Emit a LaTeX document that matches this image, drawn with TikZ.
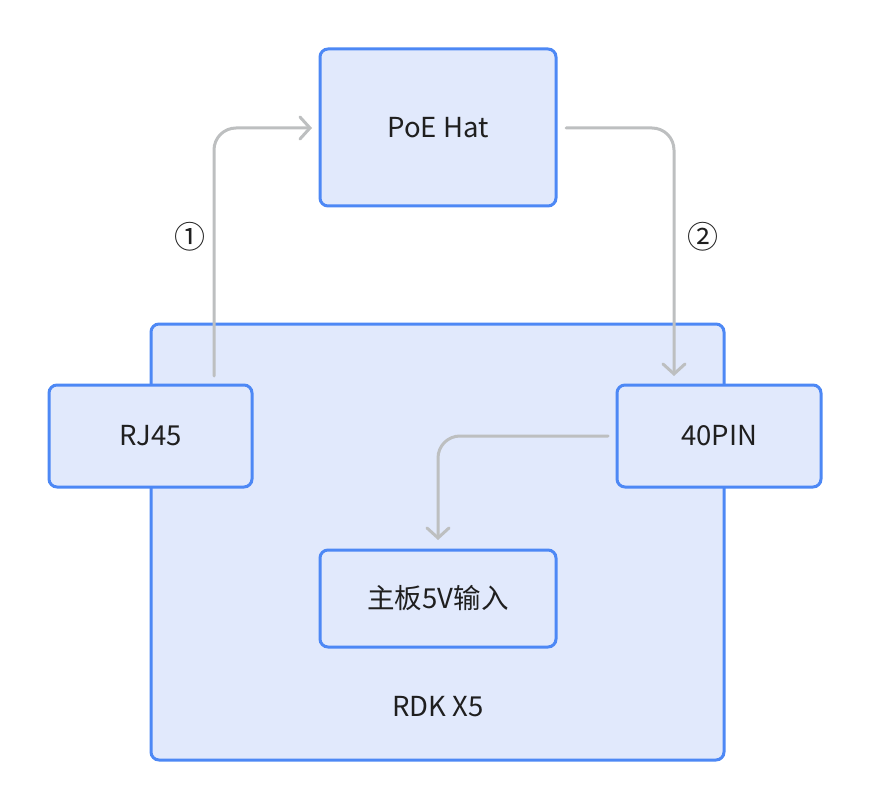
\documentclass[tikz,border=0pt]{standalone}
\usepackage{fontspec}
\setmainfont{Noto Sans CJK SC}
\usetikzlibrary{arrows.meta}
\definecolor{boxblue}{HTML}{4D88F5}
\definecolor{boxfill}{HTML}{E1E9FC}
\definecolor{linegray}{HTML}{BDBFC0}
\begin{document}
\begin{tikzpicture}[x=1pt,y=-1pt,
  box/.style={draw=boxblue,fill=boxfill,line width=3pt,rounded corners=8pt,inner sep=0pt,font=\fontsize{27.5}{32}\selectfont,text=black!88},
  conn/.style={draw=linegray,line width=3pt,rounded corners=22pt,line cap=round,-{Straight Barb[length=10pt,width=22pt,line cap=round]}},
  lbl/.style={font=\fontsize{31}{36}\selectfont,text=black!88}]
\useasboundingbox (0,0) rectangle (870,810);
\node[box,minimum width=573pt,minimum height=436pt] (rdk) at (437.5,542) {};
\node[font=\fontsize{27.5}{32}\selectfont,text=black!88] (rdklbl) at (438,707) {RDK X5};
\node[box,minimum width=236pt,minimum height=157pt] (poe) at (438,127.5) {PoE Hat};
\node[box,minimum width=203pt,minimum height=102pt] (rj) at (150.5,436) {RJ45};
\node[box,minimum width=204pt,minimum height=102pt] (pin) at (719,436) {40PIN};
\node[box,minimum width=236pt,minimum height=97pt] (main) at (438,598.5) {主板5V输入};
\coordinate (a1s) at (214,376);
\coordinate (a1e) at (312,128);
\coordinate (a2s) at (566,128);
\coordinate (a2e) at (674,376);
\coordinate (a3s) at (608,436);
\coordinate (a3e) at (438,540);
\draw[conn] (a1s) |- (a1e);
\draw[conn] (a2s) -| (a2e);
\draw[conn] (a3s) -| (a3e);
\node[lbl] (l1) at (190,237) {①};
\node[lbl] (l2) at (703,237) {②};
\end{tikzpicture}
\end{document}
